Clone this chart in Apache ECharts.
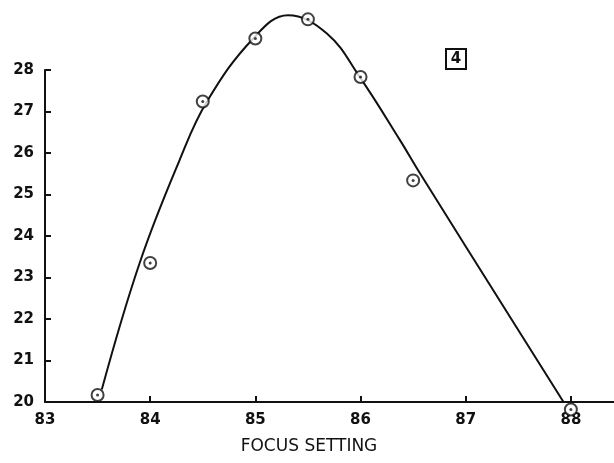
<!DOCTYPE html>
<html><head><meta charset="utf-8">
<script src="https://cdn.jsdelivr.net/npm/echarts@6/dist/echarts.min.js"></script>
<style>html,body{margin:0;padding:0;background:#fff}#c{width:614px;height:463px}</style>
</head><body><div id="c"></div>
<script>
// measured points (focus setting, value)
const focus = [83.5, 84.0, 84.5, 85.0, 85.5, 86.0, 86.5, 88.0];
const values = [20.17, 23.35, 27.24, 28.76, 29.22, 27.83, 25.34, 19.82];
// hand-drawn fit curve
const curveX = [83.54, 83.90, 84.28, 84.54, 84.98, 85.31, 85.68, 85.99, 86.375, 86.565, 87.93];
const curveY = [20.30, 23.35, 25.83, 27.24, 28.76, 29.32, 28.88, 27.84, 26.31, 25.51, 20.0];
const xTicks = [83, 84, 85, 86, 87, 88];
const yTicks = [20, 21, 22, 23, 24, 25, 26, 27, 28];
const xTitle = 'FOCUS SETTING';
const boxLabel = '4';

const ink = '#111';
const font = 'DejaVu Sans';
const pts = focus.map((x, i) => [x, values[i]]);
const curve = curveX.map((x, i) => [x, curveY[i]]);

const chart = echarts.init(document.getElementById('c'));
chart.setOption({
  animation: false,
  grid: { left: 45, right: 0, top: 70, bottom: 61 },
  xAxis: {
    type: 'value', min: 83, max: 88.41,
    axisLine: { lineStyle: { color: ink, width: 2 } },
    axisTick: { inside: true, length: 6, lineStyle: { color: ink, width: 2 }, customValues: xTicks },
    axisLabel: { color: ink, fontFamily: font, fontSize: 15, fontWeight: 'bold', margin: 11, customValues: xTicks },
    splitLine: { show: false }
  },
  yAxis: {
    type: 'value', min: 20, max: 28, interval: 1,
    axisLine: { show: true, lineStyle: { color: ink, width: 2 } },
    axisTick: { show: true, inside: true, length: 6, lineStyle: { color: ink, width: 2 }, customValues: yTicks },
    axisLabel: { color: ink, fontFamily: font, fontSize: 15, fontWeight: 'bold', margin: 11, customValues: yTicks },
    splitLine: { show: false }
  },
  series: [
    { type: 'line', data: curve, smooth: 0.4, clip: false, showSymbol: false, symbol: 'none',
      lineStyle: { color: ink, width: 2 }, z: 2 },
    { type: 'scatter', data: pts, clip: false, symbol: 'circle', symbolSize: 12,
      itemStyle: { color: '#fff', borderColor: ink, borderWidth: 2 }, z: 3 },
    { type: 'scatter', data: pts, clip: false, symbol: 'circle', symbolSize: 3,
      itemStyle: { color: ink }, z: 4 }
  ],
  graphic: [
    { type: 'text', x: 309, y: 447,
      style: { text: xTitle, font: '17px "DejaVu Sans"', fill: ink, align: 'center', verticalAlign: 'middle' } },
    { type: 'rect', x: 446, y: 49, shape: { width: 20, height: 20 },
      style: { fill: '#fff', stroke: ink, lineWidth: 2 } },
    { type: 'text', x: 456, y: 59.5,
      style: { text: boxLabel, font: 'bold 15px "DejaVu Sans"', fill: ink, align: 'center', verticalAlign: 'middle' } }
  ]
});
</script></body></html>
